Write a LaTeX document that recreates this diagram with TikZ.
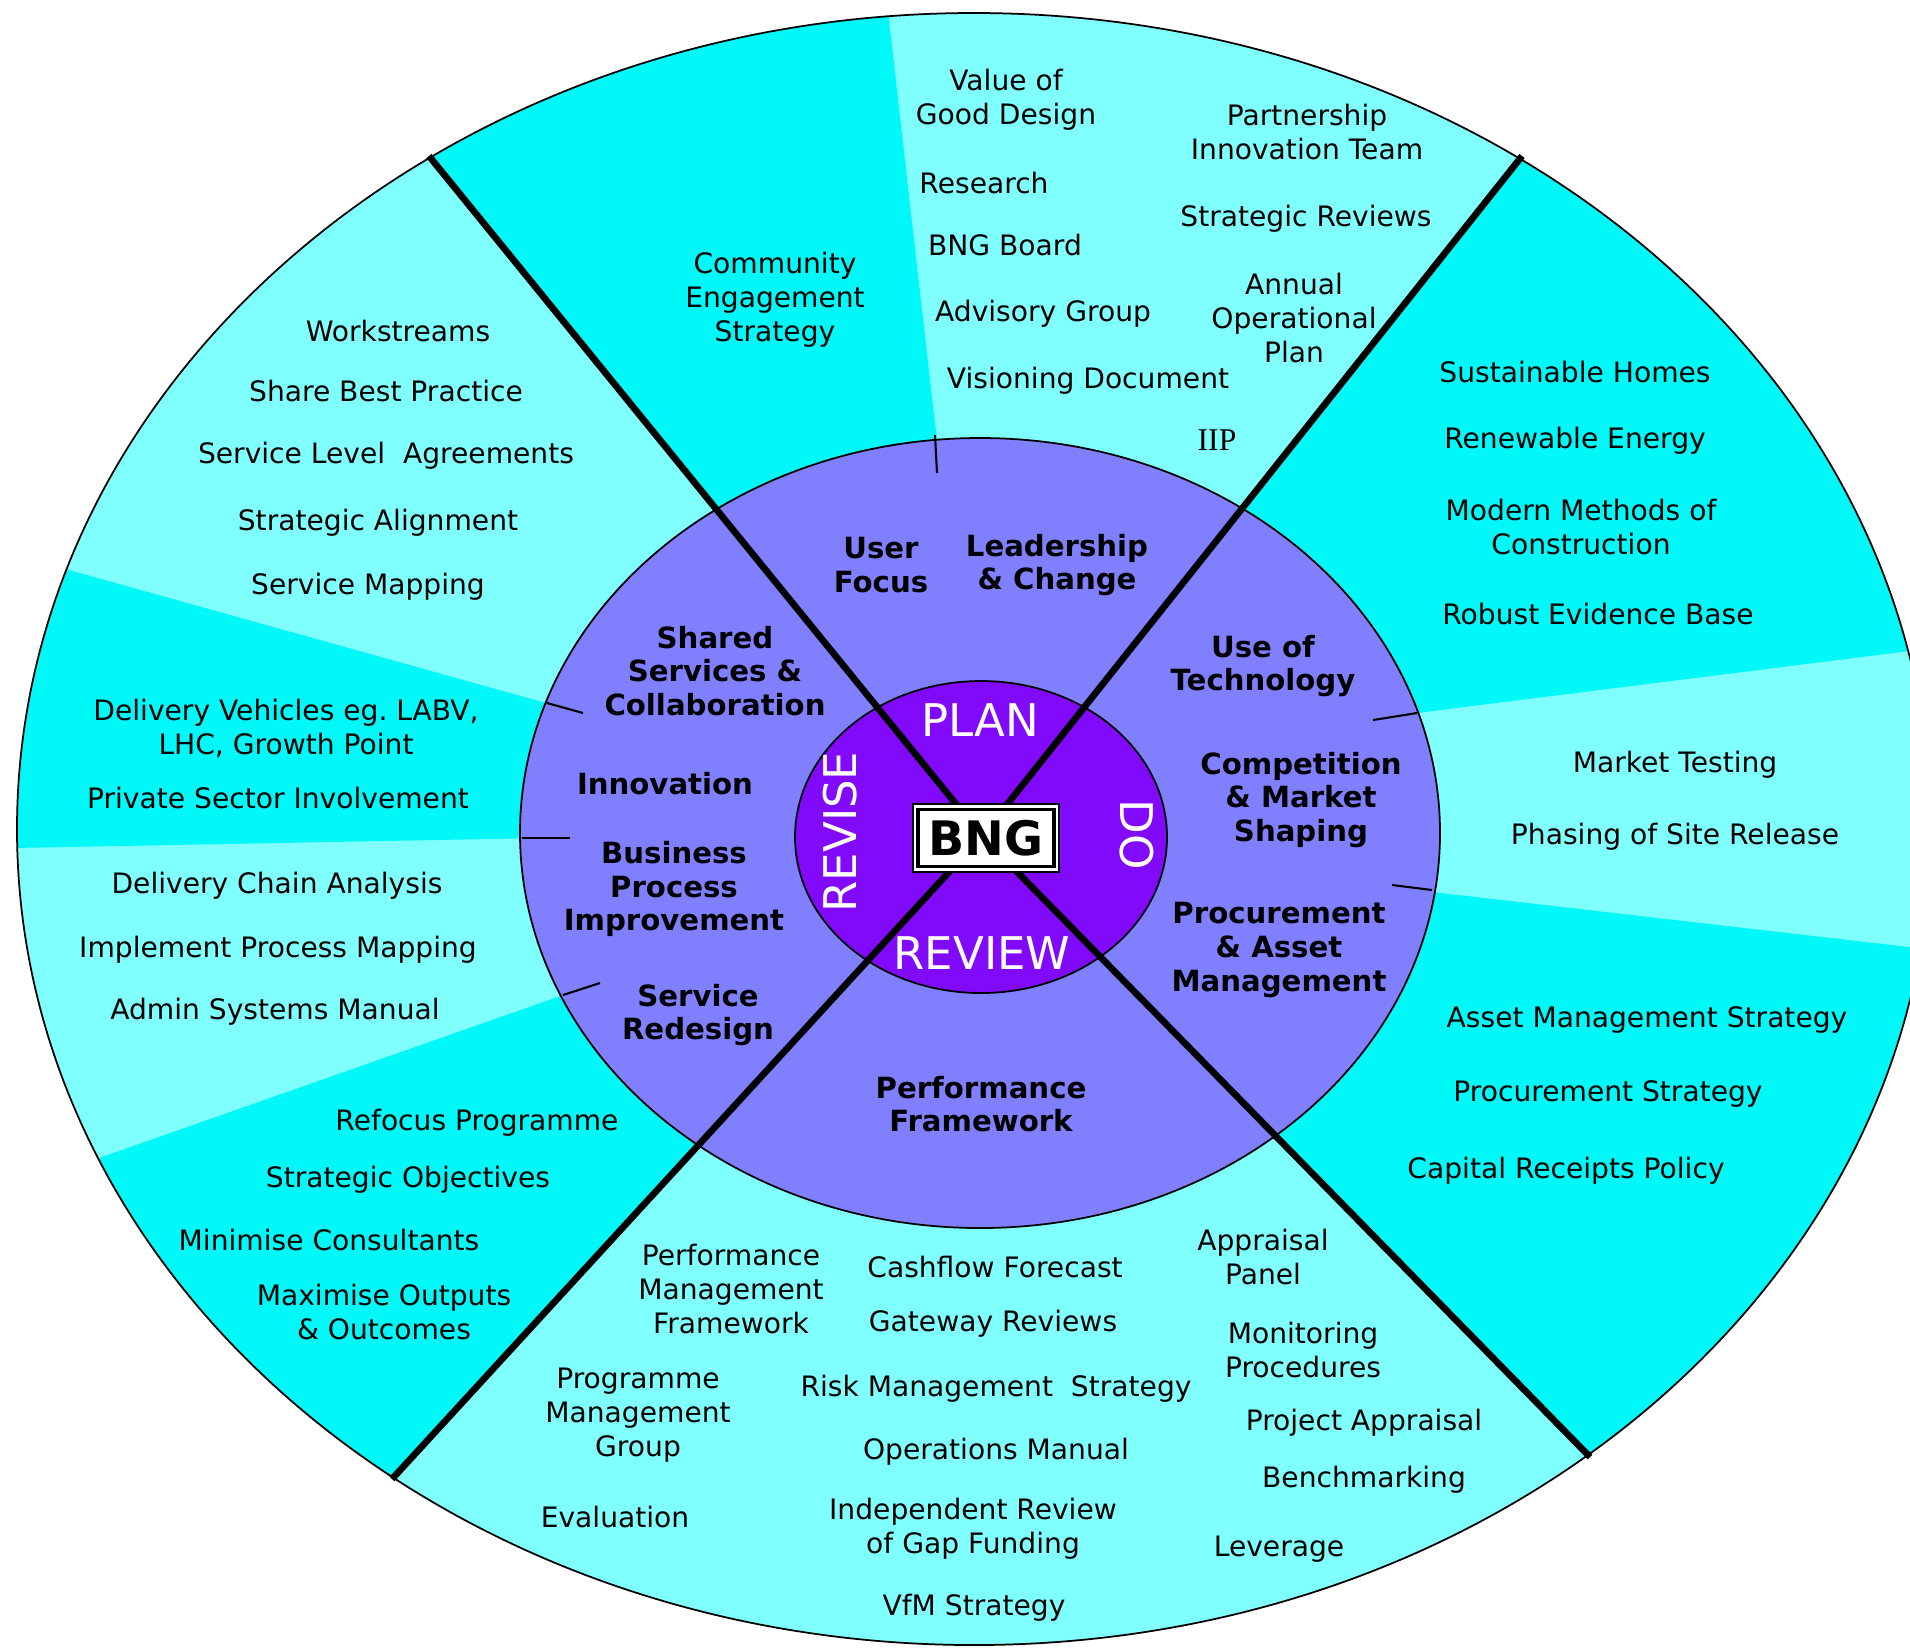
\documentclass[tikz,border=0pt]{standalone}
\usepackage{fontspec}
\setmainfont{DejaVu Sans}
\newfontfamily\serifx{Liberation Serif}
\definecolor{lcyan}{RGB}{128,255,255}
\definecolor{bcyan}{RGB}{0,248,248}
\definecolor{midblue}{RGB}{128,128,255}
\definecolor{violetc}{RGB}{130,10,250}
\begin{document}
\begin{tikzpicture}[x=0.01cm,y=-0.01cm,
  lbl/.style={align=center,font=\fontsize{8}{9.7}\selectfont,text=black,inner sep=0pt},
  blbl/.style={align=center,font=\fontsize{8.3}{9.6}\selectfont\bfseries,text=black,inner sep=0pt},
  wlbl/.style={font=\fontsize{12.8}{14}\selectfont,text=white,inner sep=0pt},
  spoke/.style={line width=1.9pt},
  tickline/.style={line width=0.6pt},
  rim/.style={line width=0.5pt}
]
\fill[white] (0,0) rectangle (1910,1650);
\useasboundingbox (0,0) rectangle (1910,1650);

\coordinate (C) at (982,836);
\coordinate (ul) at (429,156);
\coordinate (ur) at (1522,156);
\coordinate (ll) at (392,1479);
\coordinate (lr) at (1590,1457);

% outer ring
\begin{scope}
  \clip (974,829) ellipse [x radius=957, y radius=816];
  \fill[lcyan] (0,0) rectangle (1910,1650);
  \fill[bcyan] (C) -- (208,-116) -- (860,-234) -- cycle;
  \fill[bcyan] (700,746) -- (-200,495) -- (-200,852) -- (700,835) -- cycle;
  \fill[bcyan] (700,947) -- (-200,1263) -- (-200,1865) -- (38,1865) -- (C) -- cycle;
  \fill[bcyan] (C) -- (1792,-184) -- (2100,-184) -- (2100,627) -- (1250,734) -- cycle;
  \fill[bcyan] (1250,871) -- (2100,969) -- (2100,1830) -- (1955,1830) -- (C) -- cycle;
\end{scope}
\draw[rim] (974,829) ellipse [x radius=957, y radius=816];

% middle and inner rings
\filldraw[fill=midblue, rim] (980,833) ellipse [x radius=460, y radius=395];
\filldraw[fill=violetc, rim] (981,837) ellipse [x radius=186, y radius=156];

% ticks on the middle ring
\coordinate (t1a) at (935,435); \coordinate (t1b) at (937,473);
\coordinate (t2a) at (547,703); \coordinate (t2b) at (583,713);
\coordinate (t3a) at (522,838); \coordinate (t3b) at (570,838);
\coordinate (t4a) at (563,995); \coordinate (t4b) at (600,983);
\coordinate (t5a) at (1417,713); \coordinate (t5b) at (1373,720);
\coordinate (t6a) at (1432,890); \coordinate (t6b) at (1392,885);
\draw[tickline] (t1a) -- (t1b);
\draw[tickline] (t2a) -- (t2b);
\draw[tickline] (t3a) -- (t3b);
\draw[tickline] (t4a) -- (t4b);
\draw[tickline] (t5a) -- (t5b);
\draw[tickline] (t6a) -- (t6b);

% spokes
\draw[spoke] (C) -- (ul);
\draw[spoke] (C) -- (ur);
\draw[spoke] (C) -- (ll);
\draw[spoke] (C) -- (lr);

% top segment
\node[lbl] (vgd) at (1006,100) {Value of\\Good Design};
\node[lbl] (res) at (984,183) {Research};
\node[lbl] (bngb) at (1005,245) {BNG Board};
\node[lbl] (adv) at (1043,314) {Advisory Group};
\node[lbl] (vis) at (1088,381) {Visioning Document};
\node[lbl] (pit) at (1307,132) {Partnership\\Innovation Team};
\node[lbl] (srv) at (1306,219) {Strategic Reviews};
\node[lbl] (aop) at (1294,318) {Annual\\Operational\\Plan};
\node[lbl,font=\serifx\fontsize{9}{10}\selectfont] (iip) at (1217,440) {IIP};
\node[lbl] (ces) at (775,300) {Community\\Engagement\\Strategy};

% left upper
\node[lbl] (ws) at (398,331) {Workstreams};
\node[lbl] (sbp) at (386,391) {Share Best Practice};
\node[lbl] (sla) at (386,456) {Service Level\ \ Agreements};
\node[lbl] (sal) at (378,523) {Strategic Alignment};
\node[lbl] (smp) at (368,587) {Service Mapping};

% left middle
\node[lbl] (dv) at (286,728) {Delivery Vehicles eg.\ LABV,\\LHC, Growth Point};
\node[lbl] (psi) at (278,798) {Private Sector Involvement};

% left lower
\node[lbl] (dca) at (277,886) {Delivery Chain Analysis};
\node[lbl] (ipm) at (278,950) {Implement Process Mapping};
\node[lbl] (asm) at (275,1012) {Admin Systems Manual};

% lower left
\node[lbl] (rfp) at (477,1123) {Refocus Programme};
\node[lbl] (sob) at (408,1180) {Strategic Objectives};
\node[lbl] (mcs) at (329,1240) {Minimise Consultants};
\node[lbl] (moo) at (384,1312) {Maximise Outputs\\\& Outcomes};

% bottom
\node[lbl] (pmf) at (731,1289) {Performance\\Management\\Framework};
\node[lbl] (pmg) at (638,1415) {Programme\\Management\\Group};
\node[lbl] (evl) at (615,1517) {Evaluation};
\node[lbl] (cff) at (995,1267) {Cashflow Forecast};
\node[lbl] (gwr) at (993,1324) {Gateway Reviews};
\node[lbl] (rms) at (996,1389) {Risk Management\ \ Strategy};
\node[lbl] (opm) at (996,1452) {Operations Manual};
\node[lbl] (irg) at (973,1529) {Independent Review\\of Gap Funding};
\node[lbl] (vfm) at (974,1608) {VfM Strategy};
\node[lbl] (app) at (1263,1257) {Appraisal\\Panel};
\node[lbl] (mop) at (1303,1350) {Monitoring\\Procedures};
\node[lbl] (pja) at (1364,1423) {Project Appraisal};
\node[lbl] (bmk) at (1364,1480) {Benchmarking};
\node[lbl] (lev) at (1279,1549) {Leverage};

% right upper
\node[lbl] (shm) at (1575,372) {Sustainable Homes};
\node[lbl] (ren) at (1575,441) {Renewable Energy};
\node[lbl] (mmc) at (1581,527) {Modern Methods of\\Construction};
\node[lbl] (reb) at (1598,614) {Robust Evidence Base};

% right middle
\node[lbl] (mkt) at (1675,765) {Market Testing};
\node[lbl] (psr) at (1675,837) {Phasing of Site Release};

% right lower
\node[lbl] (ams) at (1647,1020) {Asset Management Strategy};
\node[lbl] (prs) at (1608,1094) {Procurement Strategy};
\node[lbl] (crp) at (1566,1171) {Capital Receipts Policy};

% middle ring
\node[blbl] (uf) at (881,565) {User\\Focus};
\node[blbl] (lc) at (1057,565) {Leadership\\\& Change};
\node[blbl] (ssc) at (715,671) {Shared\\Services \&\\Collaboration};
\node[blbl] (inn) at (665,784) {Innovation};
\node[blbl] (bpi) at (674,889) {Business\\Process\\Improvement};
\node[blbl] (srd) at (698,1015) {Service\\Redesign};
\node[blbl] (pfw) at (981,1104) {Performance\\Framework};
\node[blbl] (uot) at (1263,666) {Use of\\Technology};
\node[blbl] (cms) at (1301,800) {Competition\\\& Market\\Shaping};
\node[blbl] (pam) at (1279,950) {Procurement\\\& Asset\\Management};

% inner ring
\node[wlbl] (plan) at (980,720) {PLAN};
\node[wlbl,rotate=-90] (do) at (1137,835) {DO};
\node[wlbl] (review) at (982,953) {REVIEW};
\node[wlbl,rotate=90] (revise) at (840,832) {REVISE};

% centre box
\node[fill=white, draw=black, line width=0.6pt, minimum width=1.46cm, minimum height=0.68cm, inner sep=0pt] (bngouter) at (986,838) {};
\node[draw=black, line width=1pt, minimum width=1.36cm, minimum height=0.57cm, inner sep=0pt, font=\fontsize{13.5}{14}\selectfont\bfseries] (bng) at (986,838) {BNG};
\end{tikzpicture}
\end{document}
